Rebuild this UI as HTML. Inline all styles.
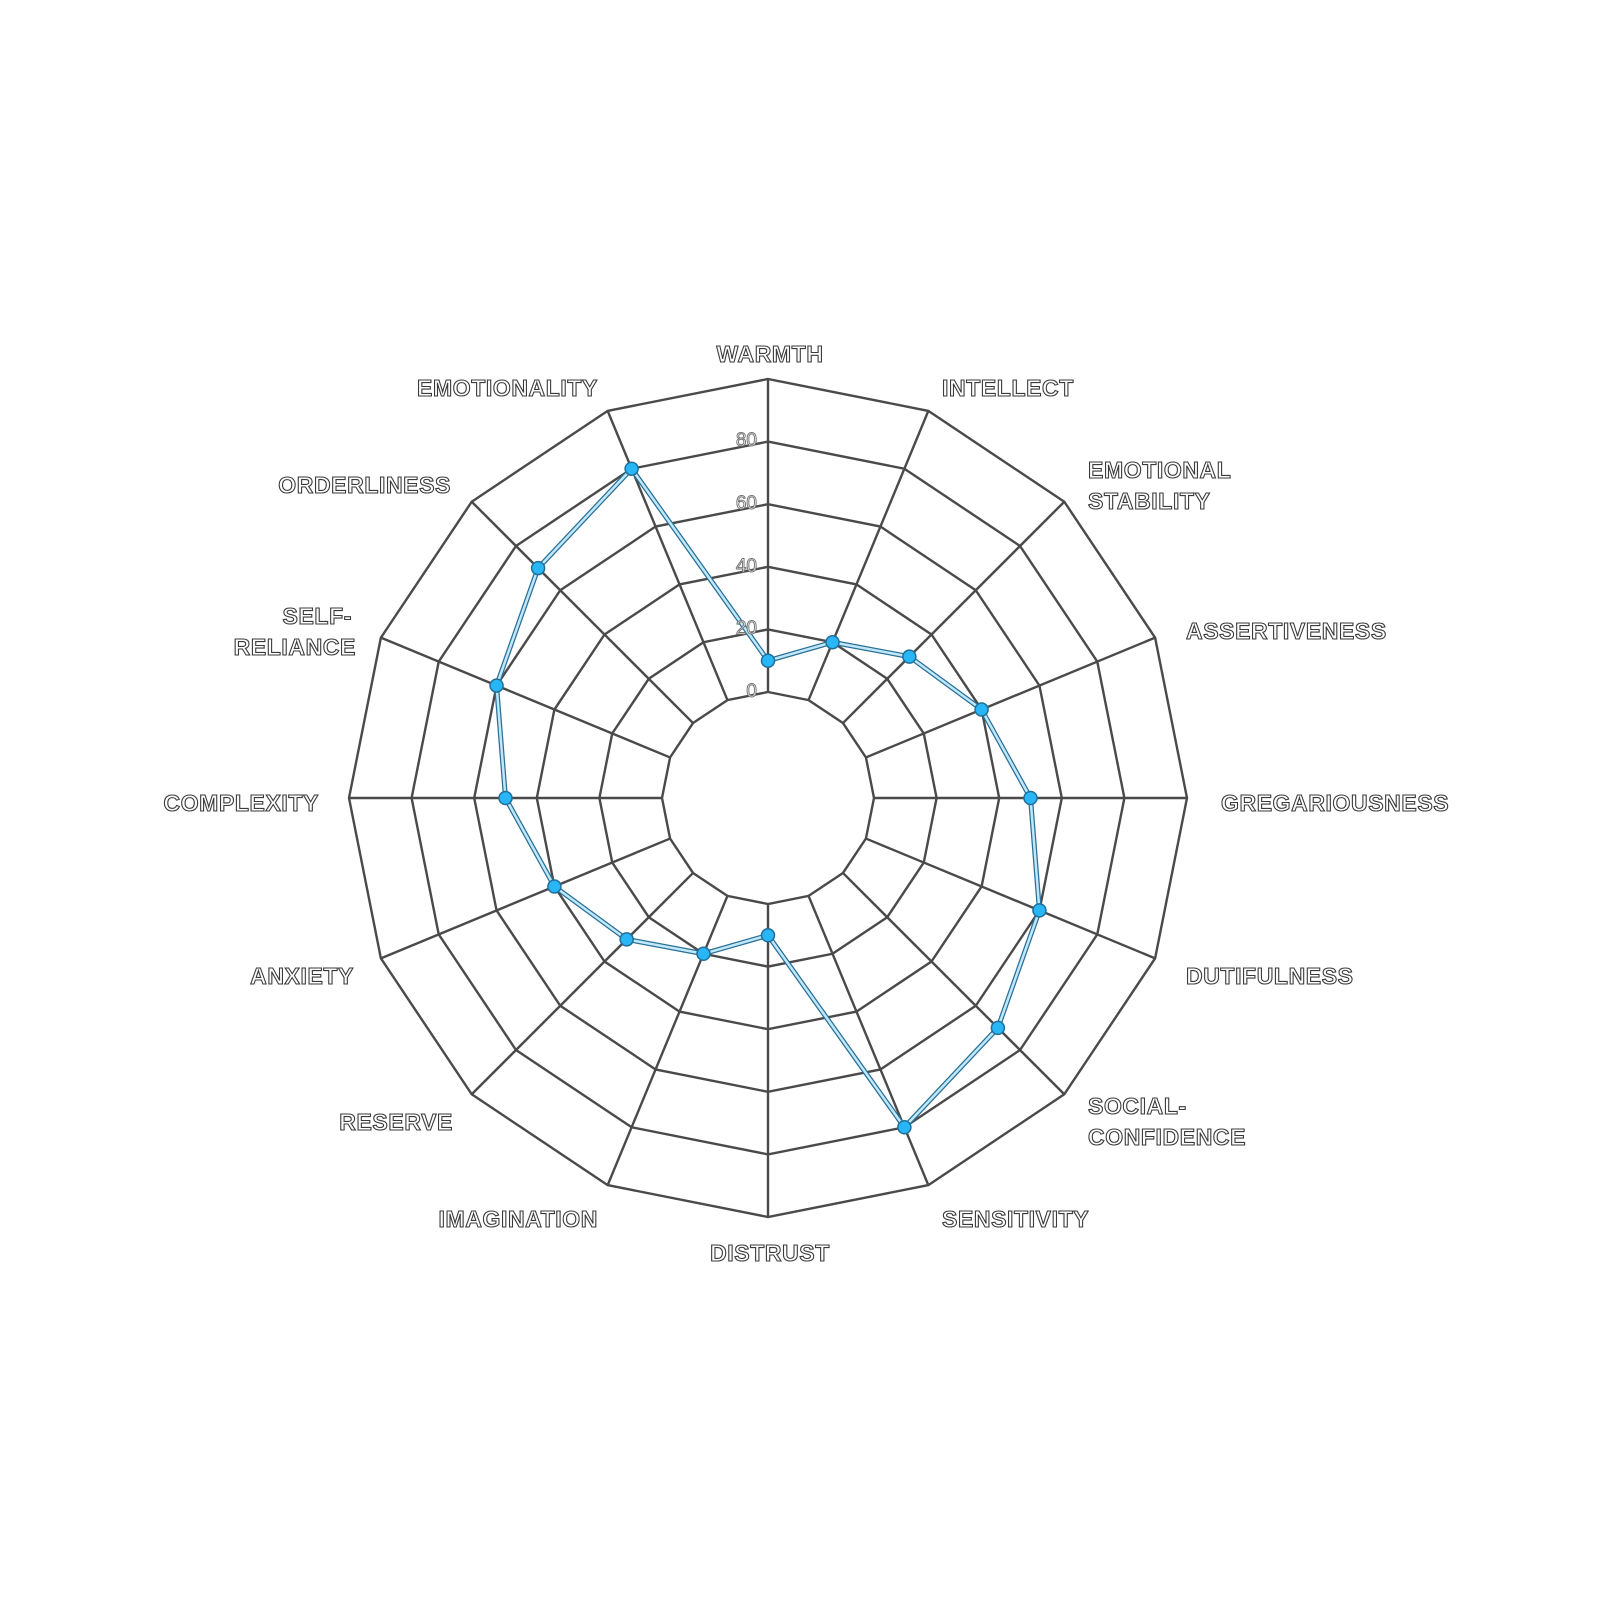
<!DOCTYPE html>
<html><head><meta charset="utf-8">
<style>
html,body{margin:0;padding:0;background:#fff;}
svg{display:block;}
.lab{font-family:"Liberation Sans",sans-serif;font-weight:bold;font-size:23px;letter-spacing:0.6px;fill:#fff;stroke:#3a3a3a;stroke-width:1.1px;}
.tick{font-family:"Liberation Sans",sans-serif;font-size:19px;fill:#fff;stroke:#777;stroke-width:1px;}
</style></head><body>
<svg id="s" width="1600" height="1600" viewBox="0 0 1600 1600" xmlns="http://www.w3.org/2000/svg">
<g id="grid" fill="none" stroke="#4a4a4a" stroke-width="2.4"></g>
<g id="data"></g>
<g id="ticks">
<text class="tick" x="757" y="697" text-anchor="end">0</text>
<text class="tick" x="757" y="634" text-anchor="end">20</text>
<text class="tick" x="757" y="572" text-anchor="end">40</text>
<text class="tick" x="757" y="509" text-anchor="end">60</text>
<text class="tick" x="757" y="446" text-anchor="end">80</text>
</g>
<g>
<text class="lab" x="770" y="362" text-anchor="middle">WARMTH</text>
<text class="lab" x="942" y="396">INTELLECT</text>
<text class="lab" x="1088" y="478">EMOTIONAL</text>
<text class="lab" x="1088" y="509">STABILITY</text>
<text class="lab" x="1186" y="639">ASSERTIVENESS</text>
<text class="lab" x="1221" y="811">GREGARIOUSNESS</text>
<text class="lab" x="1186" y="984">DUTIFULNESS</text>
<text class="lab" x="1088" y="1114">SOCIAL-</text>
<text class="lab" x="1088" y="1145">CONFIDENCE</text>
<text class="lab" x="942" y="1227">SENSITIVITY</text>
<text class="lab" x="770" y="1261" text-anchor="middle">DISTRUST</text>
<text class="lab" x="598" y="1227" text-anchor="end">IMAGINATION</text>
<text class="lab" x="453" y="1130" text-anchor="end">RESERVE</text>
<text class="lab" x="354" y="984" text-anchor="end">ANXIETY</text>
<text class="lab" x="319" y="811" text-anchor="end">COMPLEXITY</text>
<text class="lab" x="352" y="624" text-anchor="end">SELF-</text>
<text class="lab" x="356" y="655" text-anchor="end">RELIANCE</text>
<text class="lab" x="451" y="493" text-anchor="end">ORDERLINESS</text>
<text class="lab" x="598" y="396" text-anchor="end">EMOTIONALITY</text>
</g>
</svg>
<script>
(function(){
var NS="http://www.w3.org/2000/svg",cx=768,cy=798,r0=106,sp=62.6,N=16;
var g=document.getElementById('grid'),d=document.getElementById('data');
function pt(i,r){var a=-Math.PI/2+i*2*Math.PI/N;return [cx+r*Math.cos(a),cy+r*Math.sin(a)];}
function el(t,at,p){var e=document.createElementNS(NS,t);for(var k in at)e.setAttribute(k,at[k]);p.appendChild(e);return e;}
for(var k=0;k<=5;k++){var r=r0+k*sp,ps=[];for(var i=0;i<N;i++)ps.push(pt(i,r).join(','));el('polygon',{points:ps.join(' ')},g);}
for(var i=0;i<N;i++){var a=pt(i,r0),b=pt(i,r0+5*sp);el('line',{x1:a[0],y1:a[1],x2:b[0],y2:b[1]},g);}
var v=[10,20,30,40,50,60,70,80,10,20,30,40,50,60,70,80],ps=[];
for(var i=0;i<N;i++)ps.push(pt(i,r0+v[i]/20*sp));
var s=ps.map(function(p){return p.join(',')}).join(' ');
el('polygon',{points:s,fill:'none',stroke:'#2a6f95','stroke-width':5,'stroke-linejoin':'round'},d);
el('polygon',{points:s,fill:'none',stroke:'#bfe8fb','stroke-width':2.5,'stroke-linejoin':'round'},d);
ps.forEach(function(p){el('circle',{cx:p[0],cy:p[1],r:6.5,fill:'#29b6f6',stroke:'#1f6f9a','stroke-width':1.5},d);});
})();
</script>
</body></html>
